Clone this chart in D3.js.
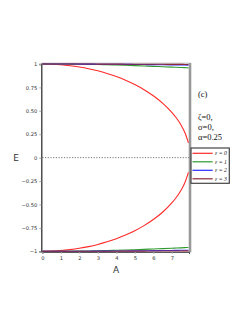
<!DOCTYPE html>
<html><head><meta charset="utf-8">
<script src="https://cdn.jsdelivr.net/npm/d3@7"></script>
<style>body{margin:0;background:#fff}svg{display:block}</style>
</head><body>
<script>
// Data
const A = [0, 0.5, 1, 1.5, 2, 2.5, 3, 3.5, 4, 4.5, 5, 5.5, 6, 6.5, 7, 7.25, 7.5, 7.7, 7.9];
const eps0Upper = [1, 0.998, 0.992, 0.982, 0.968, 0.950, 0.927, 0.899, 0.866, 0.827, 0.781, 0.726, 0.661, 0.583, 0.484, 0.423, 0.348, 0.271, 0.158];
const eps0Lower = [-1, -0.998, -0.992, -0.982, -0.968, -0.950, -0.927, -0.899, -0.866, -0.827, -0.781, -0.726, -0.661, -0.583, -0.484, -0.423, -0.348, -0.271, -0.158];
const eps1Upper = [1, 1, 1, 0.999, 0.998, 0.996, 0.994, 0.992, 0.989, 0.986, 0.983, 0.979, 0.975, 0.971, 0.967, 0.965, 0.963, 0.961, 0.959];
const eps1Lower = [-1, -1, -1, -0.999, -0.998, -0.996, -0.994, -0.992, -0.989, -0.986, -0.983, -0.979, -0.975, -0.971, -0.967, -0.965, -0.963, -0.961, -0.959];
const eps2Upper = [1, 1, 1, 1, 0.999, 0.999, 0.998, 0.998, 0.997, 0.996, 0.995, 0.994, 0.993, 0.992, 0.991, 0.990, 0.989, 0.989, 0.988];
const eps2Lower = [-1, -1, -1, -1, -0.999, -0.999, -0.998, -0.998, -0.997, -0.996, -0.995, -0.994, -0.993, -0.992, -0.991, -0.990, -0.989, -0.989, -0.988];
const eps3Upper = [1, 1, 1, 1, 1, 1, 0.999, 0.999, 0.999, 0.998, 0.998, 0.998, 0.997, 0.997, 0.996, 0.996, 0.996, 0.995, 0.995];
const eps3Lower = [-1, -1, -1, -1, -1, -1, -0.999, -0.999, -0.999, -0.998, -0.998, -0.998, -0.997, -0.997, -0.996, -0.996, -0.996, -0.995, -0.995];
const seriesNames = ["ε = 0", "ε = 1", "ε = 2", "ε = 3"];
const seriesColors = ["#ff2a2a", "#2f9a2f", "#2a2aff", "#8c2a3c"];
const xTicks = [0, 1, 2, 3, 4, 5, 6, 7];
const yTicks = [1, 0.75, 0.5, 0.25, 0, -0.25, -0.5, -0.75, -1];
const yTickLabels = ["1", "0.75", "0.50", "0.25", "0", "−0.25", "−0.50", "−0.75", "−1"];
const notes = ["(c)", "ζ=0,", "σ=0,", "α=0.25"];

const W = 249, H = 323;
const svg = d3.select("body").append("svg").attr("width", W).attr("height", H);
const x = d3.scaleLinear().domain([0, 7.93]).range([42.3, 189]);
const y = d3.scaleLinear().domain([-1, 1]).range([251.3, 64]);

// frame: gray top and right
svg.append("line").attr("x1", 41.3).attr("x2", 190.5).attr("y1", 63.2).attr("y2", 63.2)
  .attr("stroke", "#b8b8b8").attr("stroke-width", 1);
svg.append("line").attr("x1", 190).attr("x2", 190).attr("y1", 63).attr("y2", 252.3)
  .attr("stroke", "#999").attr("stroke-width", 2.6);

// dotted zero line
svg.append("line").attr("x1", x(0)).attr("x2", 189).attr("y1", y(0)).attr("y2", y(0))
  .attr("stroke", "#777").attr("stroke-width", 1).attr("stroke-dasharray", "1.2,1.5");

// axes
const yAxis = d3.axisLeft(y).tickValues(yTicks).tickFormat((d, i) => yTickLabels[i]).tickSize(2).tickPadding(2);
const gy = svg.append("g").attr("transform", "translate(41.3,0)").call(yAxis);
gy.select(".domain").attr("stroke", "#333").attr("stroke-width", 1.3);
gy.selectAll(".tick line").attr("stroke", "#aaa");
gy.selectAll("text").attr("font-family", "DejaVu Sans, sans-serif").attr("font-size", 5.2).attr("fill", "#333");

const xAxis = d3.axisBottom(x).tickValues(xTicks).tickFormat(d3.format("d")).tickSize(2).tickPadding(3);
const gx = svg.append("g").attr("transform", "translate(0,251.8)").call(xAxis);
gx.select(".domain").attr("stroke", "#333").attr("stroke-width", 1);
gx.selectAll(".tick line").attr("stroke", "#aaa");
gx.selectAll("text").attr("font-family", "DejaVu Sans, sans-serif").attr("font-size", 5.2).attr("fill", "#333");

// curves
const line = d3.line().x((d, i) => x(A[i])).y(d => y(d)).curve(d3.curveMonotoneX);
const sets = [[eps0Upper, eps0Lower], [eps1Upper, eps1Lower], [eps2Upper, eps2Lower], [eps3Upper, eps3Lower]];
sets.forEach((pair, k) => {
  pair.forEach(arr => {
    svg.append("path").datum(arr).attr("d", line).attr("fill", "none")
      .attr("stroke", seriesColors[k]).attr("stroke-width", 1.1);
  });
});

// axis labels
svg.append("text").attr("x", 16).attr("y", 161).attr("text-anchor", "middle")
  .attr("font-family", "DejaVu Sans, sans-serif").attr("font-size", 9).attr("fill", "#333").text("E");
svg.append("text").attr("x", 116).attr("y", 273).attr("text-anchor", "middle")
  .attr("font-family", "DejaVu Sans, sans-serif").attr("font-size", 9).attr("fill", "#333").text("A");

// notes
const noteY = [97, 120, 130, 140];
notes.forEach((t, i) => {
  svg.append("text").attr("x", 198).attr("y", noteY[i])
    .attr("font-family", "Liberation Serif, serif").attr("font-size", 8.5).attr("fill", "#111").text(t);
});

// legend
const lg = svg.append("g");
lg.append("rect").attr("x", 191).attr("y", 148).attr("width", 38.3).attr("height", 35.3)
  .attr("fill", "#fff").attr("stroke", "#444").attr("stroke-width", 1.2);
seriesNames.forEach((name, i) => {
  const ly = 153.3 + i * 8.5;
  lg.append("line").attr("x1", 192.5).attr("x2", 212.7).attr("y1", ly).attr("y2", ly)
    .attr("stroke", seriesColors[i]).attr("stroke-width", 1.2);
  lg.append("text").attr("x", 215).attr("y", ly + 2).attr("font-family", "Liberation Serif, serif")
    .attr("font-style", "italic").attr("font-size", 5.8).attr("fill", "#222").text(name);
});
</script>
</body></html>
